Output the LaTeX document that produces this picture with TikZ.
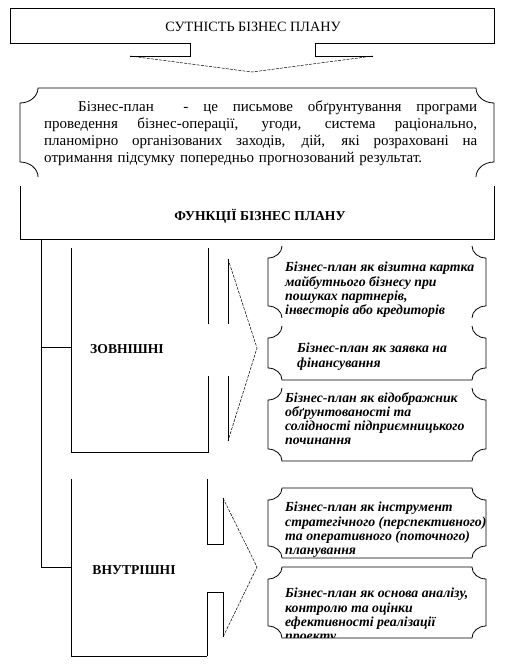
\documentclass[tikz,border=0pt]{standalone}
\usepackage{fontspec}
\setmainfont{Liberation Serif}
\newcommand\plaque[8]{%
\draw[ln] ({#1+#5},#2) #7 ({#3-#5},#2)
 .. controls ({#3-#5},{#2+0.55*#6}) and ({#3-0.55*#5},{#2+#6}) .. ({#3},{#2+#6})
 -- ({#3},{#4-#6})
 .. controls ({#3-0.55*#5},{#4-#6}) and ({#3-#5},{#4-0.55*#6}) .. ({#3-#5},#4)
 #8 ({#1+#5},#4)
 .. controls ({#1+#5},{#4-0.55*#6}) and ({#1+0.55*#5},{#4-#6}) .. (#1,{#4-#6})
 -- (#1,{#2+#6})
 .. controls ({#1+0.55*#5},{#2+#6}) and ({#1+#5},{#2+0.55*#6}) .. ({#1+#5},#2);}
\newcommand\jline[2]{\hbox to #1{\spaceskip=0.25em plus 1fil\xspaceskip=0.25em plus 1fil\relax #2}}
\begin{document}
\begin{tikzpicture}[x=1pt,y=-1pt,
  ln/.style={line width=0.8pt},
  diag/.style={line width=0.5pt, dash pattern=on 3pt off 1.2pt},
  head/.style={font=\fontsize{14.2}{16}\selectfont, inner sep=0pt},
  side/.style={font=\fontsize{13.6}{16}\selectfont\bfseries, inner sep=0pt},
  fn/.style={font=\fontsize{13.8}{14.3}\selectfont\bfseries\itshape, inner sep=0pt, anchor=north west, align=left}]
\useasboundingbox (0,0) rectangle (517,667);
% top box with down arrow
\draw[ln] (190,43) -- (10,43) -- (10,8) -- (494,8) -- (494,43) -- (315,43);
\draw[ln] (190,43) -- (190,56) -- (130,56);
\draw[ln] (315,43) -- (315,56) -- (373,56);
\coordinate (tip1) at (252,72);
\draw[diag] (130,56) -- (tip1) -- (373,56);
\node[head] (ess) at (253,27) {СУТНІСТЬ БІЗНЕС ПЛАНУ};
% definition plaque
\plaque{20}{88}{494}{177}{18}{15}{--}{}
\node[anchor=north west, inner sep=0pt, text width=433pt,
  font=\fontsize{15}{16.7}\selectfont] (def) at (44,101)
 {\jline{433pt}{\hspace*{34pt}Бізнес-план \ - це письмове обґрунтування програми}
  \jline{433pt}{проведення бізнес-операції, угоди, система раціонально,}
  \jline{433pt}{планомірно організованих заходів, дій, які розраховані на}
  \jline{378pt}{отримання підсумку попередньо прогнозований результат.}};
% functions box
\draw[ln] (20,186) -- (20,239) -- (494,239) -- (494,186);
\node[head, font=\fontsize{13.6}{16}\selectfont\bfseries] (fun) at (260,216) {ФУНКЦІЇ БІЗНЕС ПЛАНУ};
% trunk
\coordinate (tr0) at (41,239);
\coordinate (trE) at (41,347);
\coordinate (trI) at (41,567);
\coordinate (extL) at (71,347);
\coordinate (intL) at (71,567);
\draw[ln] (tr0) -- (trI) -- (intL);
\draw[ln] (trE) -- (extL);
% external block
\draw[ln] (71,248) -- (71,452) -- (208,452) -- (208,376);
\draw[ln] (208,324) -- (208,248);
\draw[ln] (228,259) -- (228,324);
\draw[ln] (228,376) -- (228,441);
\coordinate (tipE) at (257,348);
\draw[diag] (228,259) -- (tipE) -- (228,441);
\node[side] (ext) at (127,349) {ЗОВНІШНІ};
% internal block
\draw[ln] (207,479) -- (207,544) -- (223,544) -- (223,498);
\draw[ln] (207,656) -- (71,656) -- (71,479);
\draw[ln] (207,656) -- (207,592) -- (223,592) -- (223,637);
\coordinate (tipI) at (257,567);
\draw[diag] (223,498) -- (tipI) -- (223,637);
\node[side] (int) at (134,570) {ВНУТРІШНІ};
% right plaques
\plaque{268}{246}{486}{318}{14}{12}{}{}
\plaque{268}{326}{486}{380}{14}{12}{}{--}
\plaque{268}{388}{486}{461}{14}{12}{}{--}
\plaque{268}{488}{486}{558}{14}{12}{--}{--}
\plaque{268}{567}{486}{638}{14}{12}{--}{--}
\node[fn] (f1) at (285,262) {Бізнес-план як візитна картка\\майбутнього бізнесу при\\пошуках партнерів,\\інвесторів або кредиторів};
\node[fn] (f2) at (297,343) {Бізнес-план як заявка на\\фінансування};
\node[fn] (f3) at (285,392) {Бізнес-план як відображник\\обґрунтованості та\\солідності підприємницького\\починання};
\node[fn] (f4) at (285,502) {Бізнес-план як інструмент\\стратегічного (перспективного)\\та оперативного (поточного)\\планування};
\begin{scope}
\clip (268,567) rectangle (486,637.5);
\node[fn] (f5) at (285,588) {Бізнес-план як основа аналізу,\\контролю та оцінки\\ефективності реалізації\\проекту};
\end{scope}
\end{tikzpicture}
\end{document}
